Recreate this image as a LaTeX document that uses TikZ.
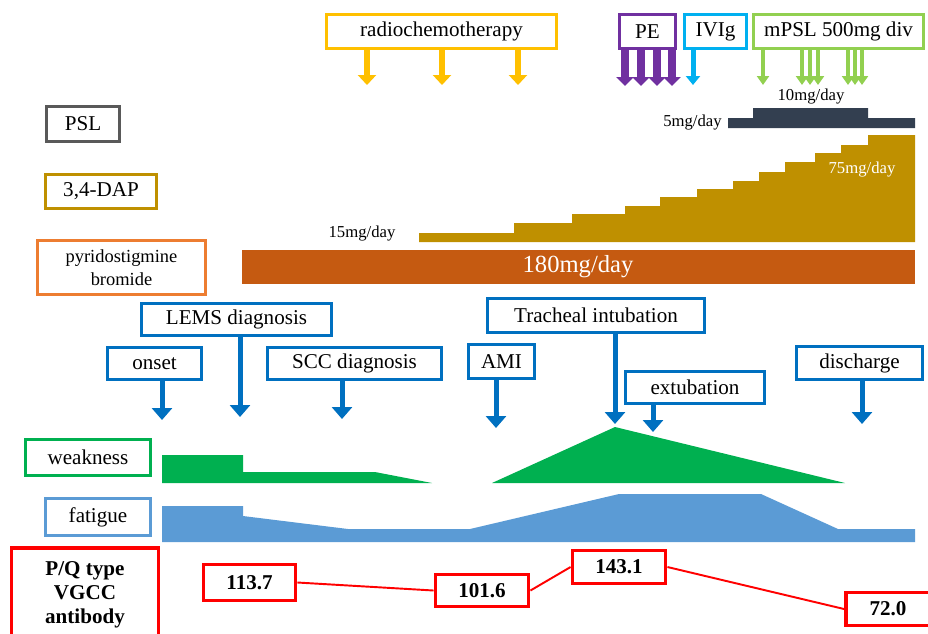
\documentclass[tikz,border=0pt]{standalone}
\usepackage{fontspec}
\setmainfont{Liberation Serif}
\usetikzlibrary{arrows.meta}

\definecolor{rctcol}{HTML}{FFC000}
\definecolor{pecol}{HTML}{7030A0}
\definecolor{ivigcol}{HTML}{00B0F0}
\definecolor{mpslcol}{HTML}{92D050}
\definecolor{pslcol}{HTML}{595959}
\definecolor{pslbar}{HTML}{333F50}
\definecolor{dapcol}{HTML}{BF9000}
\definecolor{pyrcol}{HTML}{ED7D31}
\definecolor{pyrbar}{HTML}{C55A11}
\definecolor{evcol}{HTML}{0070C0}
\definecolor{weakcol}{HTML}{00B050}
\definecolor{fatcol}{HTML}{5B9BD5}
\definecolor{abcol}{HTML}{FF0000}

\begin{document}
\begin{tikzpicture}[x=0.02cm,y=-0.02cm,
	box/.style={draw,line width=1.7pt,fill=white,inner sep=0pt,font=\fontsize{12}{14}\selectfont},
	evbox/.style={box,draw=evcol},
	valbox/.style={box,draw=abcol,line width=2.2pt,font=\fontsize{12}{14}\selectfont\bfseries},
	dose/.style={inner sep=0pt,font=\fontsize{9.5}{11}\selectfont},
	evarr/.style={draw=evcol,line width=0.1cm,-{Triangle[width=0.4cm,length=0.24cm]}},
	rctarr/.style={draw=rctcol,line width=0.12cm,-{Triangle[width=0.36cm,length=0.2cm]}},
	pearr/.style={draw=pecol,line width=0.16cm,-{Triangle[width=0.34cm,length=0.18cm]}},
	ivigarr/.style={draw=ivigcol,line width=0.1cm,-{Triangle[width=0.28cm,length=0.18cm]}},
	mpslarr/.style={draw=mpslcol,line width=0.08cm,-{Triangle[width=0.24cm,length=0.18cm]}}]
	\useasboundingbox (0,0) rectangle (928,633);

	% treatments on top
	\node[box,draw=rctcol,minimum width=4.6cm,minimum height=0.68cm] (rct) at (441.5,31.5) {radiochemotherapy};
	\node[box,draw=pecol,minimum width=1.12cm,minimum height=0.68cm] (pe) at (647.5,31.5) {PE};
	\node[box,draw=ivigcol,minimum width=1.24cm,minimum height=0.68cm] (ivig) at (715.5,31.5) {IVIg};
	\node[box,draw=mpslcol,minimum width=3.4cm,minimum height=0.68cm] (mpsl) at (838.5,31.5) {mPSL 500mg div};

	\foreach \x in {367,442,518}
		\draw[rctarr] (rct.south -| \x,0) -- (\x,85);
	\foreach \x in {625,641,657,672}
		\draw[pearr] (pe.south -| \x,0) -- (\x,86);
	\draw[ivigarr] (ivig.south -| 693,0) -- (693,85);
	\foreach \x in {763,802,810,818,848,855,862}
		\draw[mpslarr] (mpsl.south -| \x,0) -- (\x,85);

	% drugs
	\node[box,draw=pslcol,line width=2pt,minimum width=1.46cm,minimum height=0.7cm] (psl) at (83,124) {PSL};
	\node[box,draw=dapcol,minimum width=2.22cm,minimum height=0.68cm] (dap) at (101,191.5) {3,4-DAP};
	\node[box,draw=pyrcol,minimum width=3.36cm,minimum height=1.08cm,align=center,font=\fontsize{10.5}{13}\selectfont] (pyr) at (121.5,267.5) {pyridostigmine\\bromide};

	\fill[pslbar] (728,118) -- (753,118) -- (753,108) -- (868,108) -- (868,118) -- (915,118) -- (915,128) -- (728,128) -- cycle;
	\node[dose] (psl10) at (811,97) {10mg/day};
	\node[dose,anchor=east] (psl5) at (722,123) {5mg/day};

	\fill[dapcol] (419,242) |- (514,233) |- (572,223) |- (625,214) |- (660,206) |- (697,197) |- (733,189)
		|- (759,181) |- (785,172) |- (815,162) |- (841,153) |- (868,145) |- (915,135) -- (915,242) -- cycle;
	\node[dose] (dap15) at (362,233) {15mg/day};
	\node[dose,text=white] (dap75) at (862,170) {75mg/day};

	\fill[pyrbar] (242,250) rectangle (915,284);
	\node[inner sep=0pt,text=white,font=\fontsize{14}{16}\selectfont] (pyr180) at (578,267) {180mg/day};

	% events
	\node[evbox,minimum width=3.8cm,minimum height=0.64cm] (lems) at (236.5,319.5) {LEMS diagnosis};
	\node[evbox,minimum width=1.88cm,minimum height=0.64cm] (onset) at (154.5,363.5) {onset};
	\node[evbox,minimum width=3.48cm,minimum height=0.64cm] (scc) at (354.5,363.5) {SCC diagnosis};
	\node[evbox,minimum width=1.32cm,minimum height=0.68cm] (ami) at (501.5,361.5) {AMI};
	\node[evbox,minimum width=4.34cm,minimum height=0.68cm] (trach) at (596,315.5) {Tracheal intubation};
	\node[evbox,minimum width=2.78cm,minimum height=0.64cm] (extub) at (695,387.5) {extubation};
	\node[evbox,minimum width=2.52cm,minimum height=0.66cm] (disch) at (859.5,363) {discharge};

	\draw[evarr] (onset.south -| 162,0) -- (162,420);
	\draw[evarr] (lems.south -| 240,0) -- (240,417);
	\draw[evarr] (scc.south -| 342,0) -- (342,419);
	\draw[evarr] (ami.south -| 496,0) -- (496,428);
	\draw[evarr] (trach.south -| 615,0) -- (615,424);
	\draw[evarr] (extub.south -| 653,0) -- (653,432);
	\draw[evarr] (disch.south -| 862,0) -- (862,424);

	% symptoms
	\node[box,draw=weakcol,minimum width=2.5cm,minimum height=0.72cm] (weak) at (88,457.5) {weakness};
	\node[box,draw=fatcol,minimum width=2.1cm,minimum height=0.74cm] (fat) at (98,517) {fatigue};

	\fill[weakcol] (162,455) -- (243,455) -- (243,472) -- (375,472) -- (432,483) -- (162,483) -- cycle;
	\fill[weakcol] (492,483) -- (615,427) -- (845,483) -- cycle;
	\fill[fatcol] (162,506) -- (243,506) -- (243,516) -- (348,529) -- (470,529) -- (619,494) -- (761,494)
		-- (838,529) -- (915,529) -- (915,542) -- (162,542) -- cycle;

	% antibody titres
	\node[valbox,minimum width=2.94cm,minimum height=1.88cm,align=center,font=\fontsize{12}{13.6}\selectfont\bfseries] (pq) at (85,595) {P/Q type\\VGCC\\antibody};
	\node[valbox,minimum width=1.84cm,minimum height=0.72cm] (v1) at (249.5,582.5) {113.7};
	\node[valbox,minimum width=1.86cm,minimum height=0.64cm] (v2) at (482,590.5) {101.6};
	\node[valbox,minimum width=1.86cm,minimum height=0.66cm] (v3) at (619,567) {143.1};
	\node[valbox,minimum width=1.68cm,minimum height=0.66cm] (v4) at (888,609) {72.0};

	\draw[abcol,line width=1.1pt] (v1.east) -- (v2.west);
	\draw[abcol,line width=1.1pt] (v2.east) -- (v3.west);
	\draw[abcol,line width=1.1pt] (v3.east) -- (v4.west);
\end{tikzpicture}
\end{document}
